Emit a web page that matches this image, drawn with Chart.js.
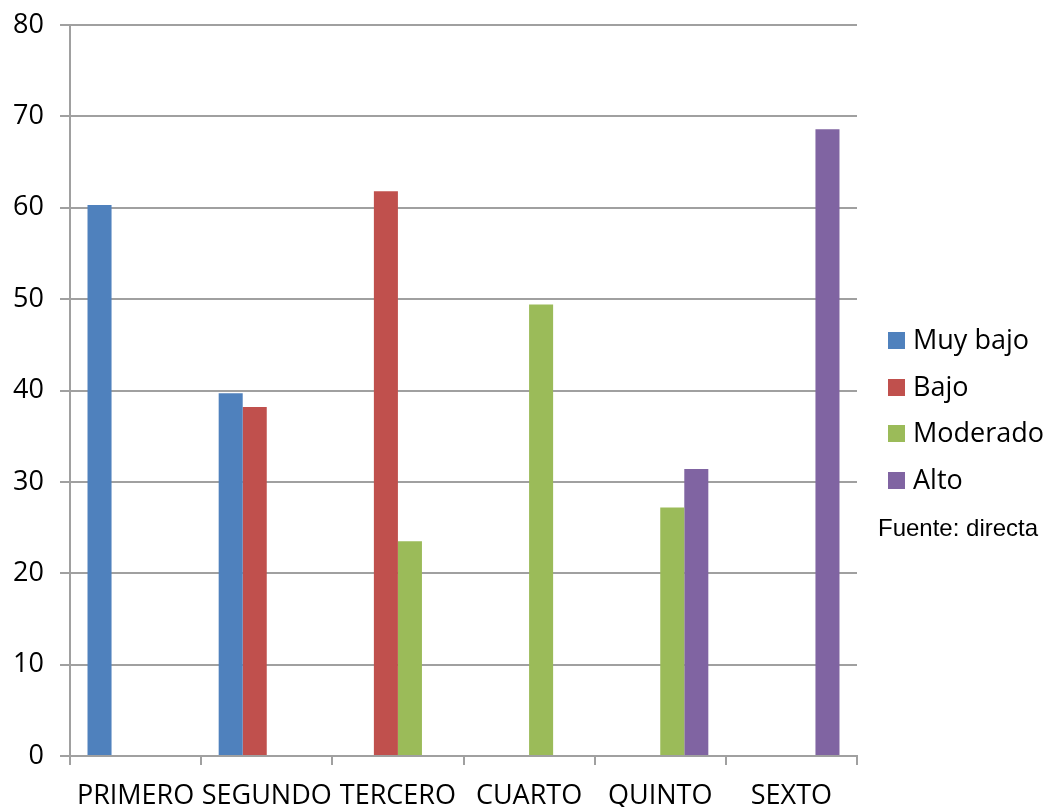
<!DOCTYPE html>
<html>
<head>
<meta charset="utf-8">
<script src="https://cdn.jsdelivr.net/npm/chart.js@4"></script>
<style>
  html, body { margin: 0; padding: 0; background: #fff; }
  #wrap { position: relative; width: 1046px; height: 807px; }
  #leyenda { position: absolute; left: 888px; top: 320px; font-family: "Open Sans", sans-serif; font-size: 27px; color: #000; }
  .item { height: 46.5px; display: flex; align-items: flex-start; }
  .cuadro { width: 17px; height: 17px; margin-top: 12px; margin-right: 8px; flex: none; }
  #fuente { position: absolute; left: 878px; top: 514px; font-family: "Liberation Sans", Arial, sans-serif; font-size: 24px; color: #000; white-space: nowrap; }
</style>
</head>
<body>
<div id="wrap">
  <canvas id="grafico" width="1046" height="807"></canvas>
  <div id="leyenda"></div>
  <div id="fuente">Fuente: directa</div>
</div>
<script>
// ---------- DATOS ----------
const categorias = ["PRIMERO", "SEGUNDO", "TERCERO", "CUARTO", "QUINTO", "SEXTO"];
const series = ["Muy bajo", "Bajo", "Moderado", "Alto"];
const colores = ["#4F81BD", "#C0504D", "#9BBB59", "#8064A2"];

const muyBajo  = [60.3, 39.7, null, null, null, null];
const bajo     = [null, 38.2, 61.8, null, null, null];
const moderado = [null, null, 23.5, 49.4, 27.2, null];
const alto     = [null, null, null, null, 31.4, 68.6];

const ticksY = [0, 10, 20, 30, 40, 50, 60, 70, 80];

const valores = [muyBajo, bajo, moderado, alto];

// ---------- LEYENDA ----------
const leyenda = document.getElementById("leyenda");
series.forEach((nombre, i) => {
  const div = document.createElement("div");
  div.className = "item";
  div.innerHTML = `<span class="cuadro" style="background:${colores[i]}"></span><span>${nombre}</span>`;
  leyenda.appendChild(div);
});

// ---------- GRAFICO ----------
const gris = "#a0a0a0";
const fuenteEje = { family: "'Open Sans', sans-serif", size: 27 };

const datasets = series.map((nombre, i) => ({
  label: nombre,
  data: valores[i],
  backgroundColor: colores[i],
  borderWidth: 0,
  barPercentage: 1,
  categoryPercentage: 0.733
}));

const ctx = document.getElementById("grafico").getContext("2d");
new Chart(ctx, {
  type: "bar",
  data: { labels: categorias, datasets: datasets },
  options: {
    responsive: false,
    animation: false,
    layout: { padding: { left: 0, right: 189, top: 25, bottom: 0 } },
    plugins: { legend: { display: false }, tooltip: { enabled: false } },
    scales: {
      x: {
        grid: { drawOnChartArea: false, drawTicks: true, tickLength: 9, color: gris, lineWidth: 2, offset: true },
        border: { color: gris, width: 2 },
        ticks: { color: "#000", font: fuenteEje, padding: 15, maxRotation: 0, autoSkip: false },
        afterFit: s => { s.height = 51; s.paddingLeft = 0; s.paddingRight = 0; }
      },
      y: {
        min: 0,
        max: 80,
        afterBuildTicks: s => { s.ticks = ticksY.map(v => ({ value: v })); },
        grid: { color: gris, lineWidth: 2, drawTicks: true, tickLength: 10 },
        border: { color: gris, width: 2 },
        ticks: { color: "#000", font: fuenteEje, padding: 16 },
        afterFit: s => { s.width = 70; s.paddingTop = 0; s.paddingBottom = 0; }
      }
    }
  }
});
</script>
</body>
</html>
